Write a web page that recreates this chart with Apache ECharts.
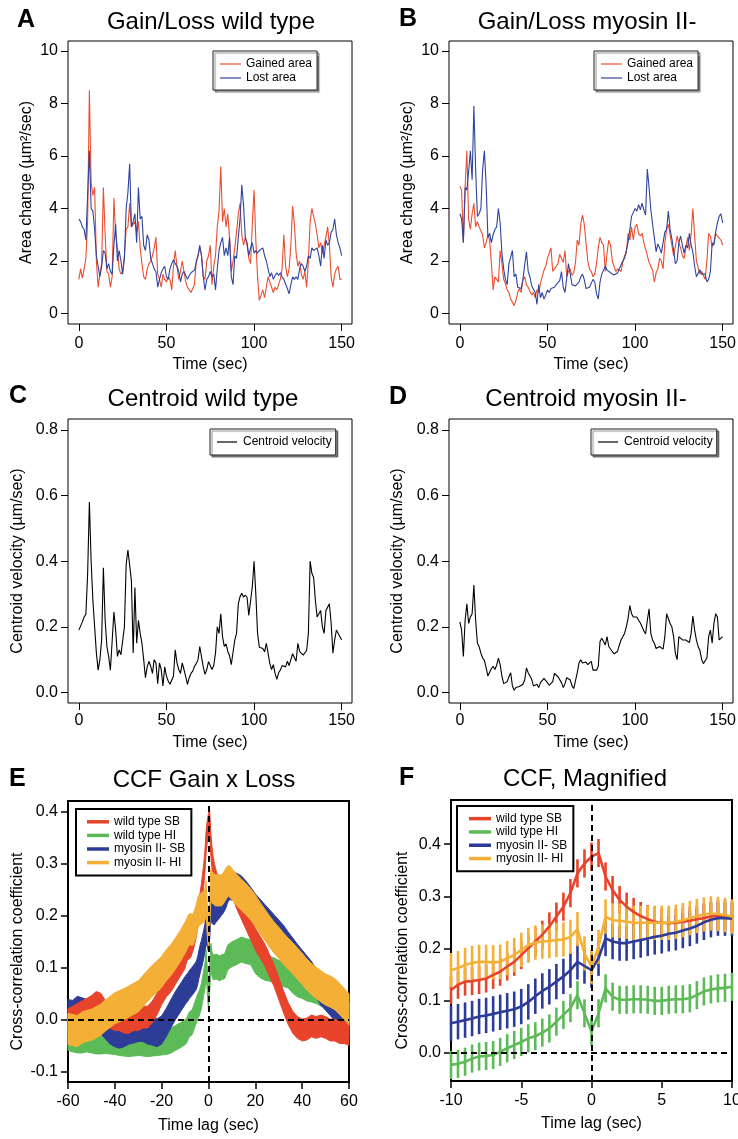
<!DOCTYPE html>
<html><head><meta charset="utf-8">
<script src="https://cdn.jsdelivr.net/npm/echarts@6/dist/echarts.min.js"></script>
<style>html,body{margin:0;padding:0;background:#fff}#c{width:738px;height:1139px}</style>
</head><body><div id="c"></div>
<script>
// ---------------- DATA ----------------
const timeSec = Array.from({length: 151}, (_, i) => i); // sample times 0..150 s

const gainWT = [1.3,1.7,1.35,1.7,2.1,3.5,8.5,5.0,4.5,4.8,
2.0,1.0,1.5,1.9,4.8,3.0,1.6,1.5,1.0,1.4,
4.4,3.0,2.5,1.7,1.5,1.6,2.2,3.2,3.3,4.2,
3.3,3.3,3.5,3.1,3.5,2.5,1.9,1.4,1.3,1.7,
1.9,2.0,2.2,2.5,2.9,1.5,1.3,1.0,1.5,1.3,
1.2,1.4,1.3,0.9,1.8,2.4,1.8,1.3,1.6,2.0,
1.6,1.2,1.0,0.9,0.8,0.95,1.1,2.0,2.2,2.5,
2.2,1.4,1.3,2.0,2.2,2.6,1.1,1.8,2.2,3.3,
3.9,5.6,3.5,4.0,3.3,3.8,2.9,1.6,2.0,2.5,
3.1,3.8,4.2,3.0,2.6,2.9,2.6,2.1,1.9,3.4,
4.7,2.8,1.4,0.5,0.7,0.9,0.6,1.0,1.4,1.2,
1.0,0.8,1.0,0.9,0.9,1.3,1.7,3.0,1.8,1.4,
1.7,2.6,4.1,3.4,2.3,1.8,2.0,1.5,1.3,1.6,
1.0,2.0,3.5,4.0,3.7,3.4,3.0,2.5,2.7,2.3,
2.3,2.9,3.3,2.6,1.4,1.0,1.5,1.7,1.8,1.3,1.3];

const lossWT = [3.6,3.5,3.3,3.2,2.8,4.5,6.2,4.0,3.9,3.2,
2.2,1.8,1.4,1.8,2.4,2.3,1.7,1.9,1.6,1.5,
2.6,3.4,2.0,2.4,2.0,1.5,2.1,4.0,4.6,5.7,
3.3,3.5,3.8,2.7,4.8,3.6,3.7,2.6,2.4,3.0,
2.8,2.1,1.9,1.7,1.6,1.0,1.3,1.55,1.7,1.8,
1.4,1.3,1.7,1.9,2.05,1.9,1.8,1.6,1.2,1.5,
1.6,1.6,1.3,1.45,1.55,1.55,1.65,1.7,2.2,2.6,
2.2,1.4,0.9,1.3,1.4,1.6,1.4,1.5,0.9,1.7,
2.4,2.7,2.9,2.2,2.5,2.2,2.9,1.4,1.1,2.2,
2.1,2.9,3.6,4.9,4.1,2.9,2.7,2.2,2.5,2.7,
2.3,2.4,2.3,2.4,2.4,2.5,2.2,2.0,1.7,1.4,
1.55,1.3,1.45,1.55,1.45,1.55,1.4,1.3,1.3,0.95,
0.75,1.1,1.4,1.3,1.4,1.3,1.7,1.9,1.8,1.6,
1.8,2.2,2.1,2.5,2.4,2.4,2.5,2.2,1.8,2.6,
2.1,2.8,2.6,2.7,3.1,3.2,3.6,3.0,2.7,2.5,2.2];

const gainMyo = [4.85,4.7,2.7,4.8,6.2,3.6,3.2,3.8,4.2,3.3,
3.5,3.3,3.3,3.0,2.5,2.7,3.0,2.8,1.9,0.9,
1.4,1.3,1.2,2.4,1.9,1.3,1.15,0.9,0.8,0.55,
0.6,0.3,0.5,0.8,0.95,0.8,1.3,1.4,1.1,1.0,
0.85,0.7,0.8,0.6,0.9,0.8,1.15,1.1,1.65,1.8,
2.1,2.1,2.5,1.6,1.7,1.8,1.9,2.25,2.2,1.95,
2.4,1.4,1.6,1.7,1.45,1.55,1.95,2.8,2.6,3.4,
3.75,3.4,2.7,2.0,1.7,1.6,1.4,1.5,1.9,2.5,
2.9,2.7,2.6,1.6,2.3,2.8,2.6,2.0,1.8,1.6,
1.7,1.75,1.6,1.95,2.2,2.3,3.05,2.8,3.3,2.8,
3.3,3.4,3.05,2.95,3.05,2.7,2.45,2.5,1.95,1.9,
1.65,1.2,1.55,1.7,2.1,2.0,1.7,2.7,3.2,3.4,
3.0,2.6,2.2,2.55,2.95,2.7,2.5,2.2,2.1,2.5,
2.9,2.4,3.0,4.0,2.95,2.0,1.75,1.5,1.6,1.45,
1.3,2.0,3.05,2.95,2.55,2.7,3.05,2.95,2.95,2.8,2.6];

const lossMyo = [3.8,3.6,2.7,4.8,4.7,5.4,6.2,5.1,7.9,5.5,
3.7,3.8,4.0,5.5,6.2,4.9,2.9,3.05,2.7,3.0,
3.2,3.3,4.0,3.45,2.3,1.7,1.3,1.1,1.9,1.95,
2.4,1.4,1.5,1.0,1.0,0.95,1.3,1.85,2.35,1.6,
1.4,1.05,1.1,0.8,0.35,1.1,0.6,0.8,0.55,0.7,
0.9,0.8,0.95,1.0,1.0,1.1,1.05,1.25,1.6,1.0,
0.8,1.35,1.9,1.5,1.1,1.1,1.05,1.05,1.2,1.4,
1.5,1.3,0.95,0.95,1.0,1.0,1.3,1.2,0.75,0.55,
1.2,1.5,1.45,1.8,1.65,1.6,1.55,1.55,1.47,1.45,
1.55,1.7,1.85,2.0,2.1,2.4,2.7,3.2,3.7,3.7,
4.0,3.9,4.15,3.95,4.2,3.95,3.75,5.5,4.8,3.95,
3.4,2.9,2.35,2.65,2.5,2.3,2.7,3.1,3.2,3.9,
3.2,2.85,2.4,1.9,2.0,2.7,2.95,2.6,2.3,2.6,
2.5,3.05,2.6,2.35,1.8,1.4,1.45,1.67,1.5,1.55,
1.5,1.2,1.3,1.6,2.69,2.6,3.1,3.45,3.7,3.8,3.45];

const velWT = [0.19,0.195,0.215,0.23,0.238,0.36,0.58,0.40,0.28,0.28,
0.12,0.068,0.1,0.16,0.38,0.22,0.14,0.11,0.068,0.07,
0.245,0.19,0.11,0.13,0.115,0.118,0.2,0.39,0.434,0.43,
0.34,0.12,0.32,0.15,0.22,0.18,0.15,0.1,0.045,0.078,
0.095,0.08,0.058,0.1,0.09,0.027,0.09,0.07,0.02,0.078,
0.05,0.035,0.025,0.02,0.05,0.13,0.09,0.07,0.058,0.09,
0.07,0.048,0.025,0.045,0.058,0.065,0.08,0.088,0.1,0.14,
0.135,0.078,0.055,0.07,0.094,0.1,0.07,0.083,0.12,0.2,
0.18,0.24,0.17,0.14,0.148,0.125,0.112,0.085,0.09,0.16,
0.18,0.27,0.292,0.302,0.29,0.297,0.29,0.235,0.23,0.322,
0.40,0.3,0.18,0.138,0.132,0.134,0.124,0.15,0.12,0.088,
0.07,0.085,0.058,0.04,0.06,0.068,0.082,0.08,0.078,0.095,
0.082,0.1,0.118,0.118,0.095,0.15,0.125,0.13,0.114,0.115,
0.128,0.18,0.40,0.363,0.35,0.28,0.23,0.24,0.25,0.2,
0.18,0.25,0.26,0.27,0.21,0.12,0.16,0.19,0.195,0.17,0.16];

const velMyo = [0.215,0.19,0.11,0.22,0.27,0.21,0.23,0.24,0.327,0.22,
0.15,0.14,0.12,0.105,0.098,0.075,0.05,0.045,0.073,0.08,
0.07,0.083,0.105,0.085,0.05,0.027,0.03,0.033,0.048,0.06,
0.02,0.007,0.015,0.019,0.018,0.02,0.025,0.038,0.075,0.06,
0.06,0.04,0.02,0.02,0.025,0.015,0.03,0.035,0.043,0.04,
0.03,0.022,0.017,0.033,0.058,0.055,0.048,0.045,0.03,0.015,
0.027,0.045,0.045,0.038,0.02,0.012,0.017,0.06,0.09,0.1,
0.09,0.09,0.093,0.085,0.088,0.095,0.068,0.068,0.068,0.08,
0.155,0.165,0.155,0.145,0.17,0.14,0.135,0.125,0.118,0.114,
0.125,0.144,0.16,0.165,0.18,0.2,0.225,0.265,0.24,0.23,
0.225,0.23,0.22,0.212,0.2,0.188,0.178,0.22,0.255,0.18,
0.16,0.15,0.134,0.135,0.14,0.14,0.132,0.17,0.24,0.236,
0.21,0.2,0.17,0.12,0.1,0.17,0.17,0.16,0.162,0.16,
0.155,0.152,0.18,0.233,0.19,0.16,0.14,0.128,0.1,0.088,
0.092,0.105,0.17,0.19,0.15,0.21,0.24,0.23,0.16,0.155,0.17];

// CCF lags
const lagsOuterL = [-60,-58,-56,-54,-52,-50,-48,-46,-44,-42,-40,-38,-36,-34,-32,-30,-28,-26,-24,-22,-20,-18,-16,-14,-12];
const lagsOuterR = [12,14,16,18,20,22,24,26,28,30,32,34,36,38,40,42,44,46,48,50,52,54,56,58,60];
const lagsInner = [-10,-9.5,-9,-8.5,-8,-7.5,-7,-6.5,-6,-5.5,-5,-4.5,-4,-3.5,-3,-2.5,-2,-1.5,-1,-0.5,0,0.5,1,1.5,2,2.5,3,3.5,4,4.5,5,5.5,6,6.5,7,7.5,8,8.5,9,9.5,10];

// wild type SB (red)
const wtSB_L = [0.0,0.005,0.01,0.015,0.02,0.025,0.033,0.03,0.015,0.005,0.0,0.0,-0.005,-0.005,0.0,0.0,0.005,0.005,0.015,0.03,0.05,0.065,0.075,0.09,0.105];
const wtSB_In = [0.12,0.13,0.136,0.137,0.139,0.142,0.149,0.155,0.165,0.174,0.187,0.2,0.213,0.226,0.242,0.261,0.28,0.306,0.344,0.363,0.376,0.383,0.338,0.312,0.293,0.28,0.27,0.262,0.256,0.251,0.249,0.248,0.249,0.251,0.253,0.256,0.258,0.261,0.262,0.261,0.26];
const wtSB_R = [0.235,0.215,0.195,0.175,0.155,0.14,0.125,0.105,0.085,0.06,0.035,0.012,-0.005,-0.015,-0.02,-0.018,-0.012,-0.015,-0.012,-0.015,-0.02,-0.02,-0.025,-0.025,-0.028];
// wild type HI (green)
const wtHI_L = [-0.035,-0.038,-0.04,-0.04,-0.038,-0.04,-0.042,-0.042,-0.041,-0.042,-0.043,-0.045,-0.046,-0.047,-0.046,-0.045,-0.046,-0.047,-0.046,-0.045,-0.044,-0.043,-0.04,-0.035,-0.03];
const wtHI_In = [-0.024,-0.022,-0.018,-0.012,-0.008,-0.007,-0.005,0.001,0.008,0.014,0.02,0.027,0.031,0.038,0.046,0.059,0.072,0.085,0.11,0.075,0.04,0.075,0.123,0.107,0.101,0.101,0.102,0.102,0.101,0.099,0.099,0.101,0.102,0.102,0.104,0.11,0.117,0.121,0.123,0.124,0.126];
const wtHI_R = [0.13,0.135,0.132,0.13,0.113,0.105,0.1,0.098,0.095,0.09,0.088,0.085,0.075,0.068,0.065,0.06,0.058,0.055,0.05,0.049,0.045,0.038,0.025,0.015,0.01];
// myosin II- SB (blue)
const myoSB_L = [0.012,0.01,0.018,0.015,0.012,0.01,0.005,0.0,-0.01,-0.02,-0.025,-0.028,-0.025,-0.02,-0.018,-0.015,-0.015,-0.02,-0.022,-0.025,-0.02,-0.005,0.012,0.028,0.042];
const myoSB_In = [0.056,0.059,0.062,0.065,0.069,0.071,0.074,0.077,0.08,0.083,0.088,0.097,0.108,0.118,0.126,0.136,0.146,0.158,0.174,0.166,0.158,0.181,0.219,0.213,0.21,0.21,0.213,0.216,0.219,0.222,0.224,0.228,0.23,0.234,0.238,0.243,0.25,0.255,0.258,0.258,0.257];
const myoSB_R = [0.255,0.25,0.24,0.228,0.215,0.205,0.195,0.185,0.175,0.165,0.155,0.142,0.13,0.118,0.107,0.096,0.085,0.07,0.055,0.045,0.035,0.025,0.012,0.0,-0.008];
// myosin II- HI (yellow)
const myoHI_L = [-0.018,-0.02,-0.022,-0.015,-0.012,-0.01,-0.005,0.0,0.008,0.015,0.022,0.026,0.03,0.035,0.04,0.045,0.055,0.065,0.075,0.083,0.092,0.105,0.115,0.128,0.142];
const myoHI_In = [0.158,0.162,0.168,0.172,0.174,0.174,0.173,0.174,0.181,0.187,0.197,0.206,0.211,0.213,0.214,0.216,0.217,0.222,0.237,0.19,0.165,0.203,0.261,0.254,0.253,0.251,0.249,0.249,0.249,0.249,0.249,0.249,0.251,0.254,0.258,0.262,0.265,0.267,0.266,0.264,0.261];
const myoHI_R = [0.25,0.241,0.232,0.222,0.21,0.196,0.183,0.17,0.158,0.148,0.137,0.127,0.118,0.108,0.098,0.087,0.078,0.071,0.064,0.058,0.054,0.049,0.04,0.03,0.02];

// half-widths of the error band (E) and error bars (F)
const errBandE = {wtSB: 0.021, wtHI: 0.024, myoSB: 0.027, myoHI: 0.03};
const errBarF  = {wtSB: 0.027, wtHI: 0.027, myoSB: 0.034, myoHI: 0.033};

const xTicksTime = [0, 50, 100, 150];
const yTicksArea = [0, 2, 4, 6, 8, 10];
const yTicksVel = [0, 0.2, 0.4, 0.6, 0.8];
const yTicksCCF = [-0.1, 0, 0.1, 0.2, 0.3, 0.4];
const yTicksMag = [0, 0.1, 0.2, 0.3, 0.4];

// ---------------- STYLE ----------------
const FONT = '"Liberation Sans", Arial, Helvetica, sans-serif';
const C_RED = '#E8432B', C_BLUE = '#2D3C97', C_GREEN = '#5CBB57', C_YEL = '#F4B036';
const C_LRED = '#EA4E2E', C_LBLUE = '#2F43A0';

const grids = [
  {left: 68, top: 41, width: 284, height: 283},
  {left: 449, top: 41, width: 284, height: 283},
  {left: 68, top: 419, width: 284, height: 284},
  {left: 449, top: 419, width: 284, height: 284},
  {left: 68, top: 801, width: 281, height: 281},
  {left: 451, top: 800, width: 281, height: 281}
].map((g, i) => Object.assign({show: true, borderColor: '#000', borderWidth: i >= 4 ? 2 : 1,
  backgroundColor: 'transparent', containLabel: false, outerBoundsMode: 'none'}, g));

function xAx(gi, min, max, opts) {
  const thick = gi >= 4;
  return Object.assign({
    type: 'value', gridIndex: gi, min, max,
    axisLine: {show: false, onZero: false},
    axisTick: {show: true, inside: false, length: 7, lineStyle: {color: '#000', width: thick ? 1.5 : 1}},
    axisLabel: {color: '#000', fontSize: 16, fontFamily: FONT, margin: 12},
    splitLine: {show: false},
    name: opts.name, nameLocation: 'middle', nameGap: opts.nameGap,
    nameTextStyle: {color: '#000', fontSize: 16, fontFamily: FONT}
  }, opts.extra || {});
}
function yAx(gi, min, max, ticks, fmt, opts) {
  const thick = gi >= 4;
  return {
    type: 'value', gridIndex: gi, min, max,
    axisLine: {show: false, onZero: false},
    axisTick: {show: true, inside: false, length: 7, customValues: ticks, lineStyle: {color: '#000', width: thick ? 1.5 : 1}},
    axisLabel: {color: '#000', fontSize: 16, fontFamily: FONT, margin: 10, customValues: ticks, formatter: fmt},
    splitLine: {show: false},
    name: opts.name, nameLocation: 'middle', nameGap: opts.nameGap, nameRotate: 90,
    nameTextStyle: Object.assign({color: '#000', fontSize: 16, fontFamily: FONT}, opts.nts || {})
  };
}
const timeX = (gi, margin) => xAx(gi, -6.2, 155.9, {name: 'Time (sec)', nameGap: margin === 12 ? 33 : 32, extra: {
  axisTick: {show: true, inside: false, length: 7, customValues: xTicksTime, lineStyle: {color: '#000'}},
  axisLabel: {color: '#000', fontSize: 16, fontFamily: FONT, margin: margin, customValues: xTicksTime}
}});

const xAxes = [
  timeX(0, 12), timeX(1, 12), timeX(2, 10), timeX(3, 10),
  xAx(4, -60, 60, {name: 'Time lag (sec)', nameGap: 36, extra: {interval: 20}}),
  xAx(5, -10, 10, {name: 'Time lag (sec)', nameGap: 35, extra: {interval: 5}})
];
const f0 = v => String(Math.round(v));
const f1 = v => (Math.abs(v) < 1e-9 ? 0 : v).toFixed(1);
const yAxes = [
  yAx(0, -0.4, 10.38, yTicksArea, f0, {name: 'Area change (µm²/sec)', nameGap: 33}),
  yAx(1, -0.4, 10.38, yTicksArea, f0, {name: 'Area change (µm²/sec)', nameGap: 33}),
  yAx(2, -0.032, 0.833, yTicksVel, f1, {name: 'Centroid velocity (µm/sec)', nameGap: 42}),
  yAx(3, -0.032, 0.833, yTicksVel, f1, {name: 'Centroid velocity (µm/sec)', nameGap: 43}),
  yAx(4, -0.12, 0.421, yTicksCCF, f1, {name: 'Cross-correlation coefficient', nameGap: 42, nts: {padding: [0, 20, 0, 0]}}),
  yAx(5, -0.055, 0.485, yTicksMag, f1, {name: 'Cross-correlation coefficient', nameGap: 40, nts: {padding: [0, 20, 0, 0]}})
];

const pairs = (xs, ys) => xs.map((x, i) => [x, ys[i]]);

function lineS(name, gi, xs, ys, color, width) {
  return {type: 'line', name, xAxisIndex: gi, yAxisIndex: gi, data: pairs(xs, ys),
    symbol: 'none', showSymbol: false, silent: true, animation: false,
    lineStyle: {color, width}, itemStyle: {color}};
}
function dashHolder(gi) {
  return {type: 'line', name: '_ref' + gi, xAxisIndex: gi, yAxisIndex: gi, data: [[0, 0]],
    symbol: 'none', lineStyle: {opacity: 0}, silent: true, animation: false,
    markLine: {symbol: 'none', silent: true, animation: false, label: {show: false},
      lineStyle: {color: '#000', type: [6, 4], width: 2},
      data: [{xAxis: 0}, {yAxis: 0}]}};
}
function bandS(name, gi, xs, ys, err, color) {
  const data = pairs(xs, ys);
  return {type: 'custom', name, xAxisIndex: gi, yAxisIndex: gi, data, silent: true, animation: false,
    encode: {x: 0, y: 1}, itemStyle: {color},
    renderItem: function (params, api) {
      if (params.dataIndex !== 0) return null;
      const up = data.map(d => api.coord([d[0], d[1] + err]));
      const lo = data.slice().reverse().map(d => api.coord([d[0], d[1] - err]));
      return {type: 'polygon', shape: {points: up.concat(lo)},
        style: {fill: color, stroke: color, lineWidth: 1}};
    }};
}
function barsS(name, gi, xs, ys, err, color) {
  return {type: 'custom', name: name + ' err', xAxisIndex: gi, yAxisIndex: gi, data: pairs(xs, ys),
    silent: true, animation: false, encode: {x: 0, y: 1},
    renderItem: function (params, api) {
      const x = api.value(0), y = api.value(1);
      const a = api.coord([x, y - err]), b = api.coord([x, y + err]);
      return {type: 'line', shape: {x1: a[0], y1: a[1], x2: b[0], y2: b[1]},
        style: {stroke: color, lineWidth: 2.6}};
    }};
}

const lagsE = lagsOuterL.concat(lagsInner, lagsOuterR);
const series = [
  lineS('Gained area', 0, timeSec, gainWT, C_LRED, 1.1),
  lineS('Lost area', 0, timeSec, lossWT, C_LBLUE, 1.1),
  lineS('Gained area', 1, timeSec, gainMyo, C_LRED, 1.1),
  lineS('Lost area', 1, timeSec, lossMyo, C_LBLUE, 1.1),
  lineS('Centroid velocity', 2, timeSec, velWT, '#000', 1.1),
  lineS('Centroid velocity', 3, timeSec, velMyo, '#000', 1.1),
  dashHolder(4),
  bandS('wild type HI', 4, lagsE, wtHI_L.concat(wtHI_In, wtHI_R), errBandE.wtHI, C_GREEN),
  bandS('myosin II- SB', 4, lagsE, myoSB_L.concat(myoSB_In, myoSB_R), errBandE.myoSB, C_BLUE),
  bandS('wild type SB', 4, lagsE, wtSB_L.concat(wtSB_In, wtSB_R), errBandE.wtSB, C_RED),
  bandS('myosin II- HI', 4, lagsE, myoHI_L.concat(myoHI_In, myoHI_R), errBandE.myoHI, C_YEL),
  dashHolder(5),
  barsS('wild type SB', 5, lagsInner, wtSB_In, errBarF.wtSB, C_RED),
  lineS('wild type SB', 5, lagsInner, wtSB_In, C_RED, 2.6),
  barsS('wild type HI', 5, lagsInner, wtHI_In, errBarF.wtHI, C_GREEN),
  lineS('wild type HI', 5, lagsInner, wtHI_In, C_GREEN, 2.6),
  barsS('myosin II- SB', 5, lagsInner, myoSB_In, errBarF.myoSB, C_BLUE),
  lineS('myosin II- SB', 5, lagsInner, myoSB_In, C_BLUE, 2.6),
  barsS('myosin II- HI', 5, lagsInner, myoHI_In, errBarF.myoHI, C_YEL),
  lineS('myosin II- HI', 5, lagsInner, myoHI_In, C_YEL, 2.6)
];

function legendBox(left, top, items, o) {
  return Object.assign({
    orient: 'vertical', left, top, selectedMode: false, itemGap: 0,
    itemWidth: o.iw, itemHeight: o.ih,
    borderColor: o.bc || '#222', borderWidth: o.bw || 1, backgroundColor: '#fff',
    shadowColor: o.shadow ? 'rgba(0,0,0,0.45)' : 'transparent', shadowBlur: o.shadow ? 1 : 0,
    shadowOffsetX: o.shadow ? 2 : 0, shadowOffsetY: o.shadow ? 2 : 0,
    padding: o.pad,
    textStyle: {color: '#000', fontSize: 12, fontFamily: FONT, lineHeight: o.lh, padding: [0, 0, 0, o.tg || 0]},
    data: items.map(([n, c]) => ({name: n, icon: 'rect', itemStyle: {color: c}}))
  });
}
const legAB = [['Gained area', C_LRED], ['Lost area', C_LBLUE]];
const legCD = [['Centroid velocity', '#000']];
const legEF = [['wild type SB', C_RED], ['wild type HI', C_GREEN], ['myosin II- SB', C_BLUE], ['myosin II- HI', C_YEL]];
const legends = [
  legendBox(213, 51, legAB, {iw: 21, ih: 1.2, lh: 14, pad: [6, 5, 5, 7], shadow: true}),
  legendBox(594, 51, legAB, {iw: 21, ih: 1.2, lh: 14, pad: [6, 5, 5, 7], shadow: true}),
  legendBox(210, 429, legCD, {iw: 20, ih: 1.2, lh: 14, pad: [6, 4, 6, 7], tg: 1, shadow: true}),
  legendBox(591, 429, legCD, {iw: 20, ih: 1.2, lh: 14, pad: [6, 4, 6, 7], tg: 1, shadow: true}),
  legendBox(76, 809, legEF, {iw: 22, ih: 3.5, lh: 13.6, pad: [6, 6, 6, 11], bw: 2, bc: '#000'}),
  legendBox(457, 806, legEF, {iw: 22, ih: 3.5, lh: 13.3, pad: [6, 6, 6, 12], bw: 2, bc: '#000'})
];

function txt(t, x, y, size, bold, align) {
  return {type: 'text', x, y, silent: true,
    style: {text: t, fill: '#000', font: (bold ? 'bold ' : '') + size + 'px ' + FONT,
      align: align || 'center', verticalAlign: 'middle', textAlign: align || 'center', textVerticalAlign: 'middle'}};
}
const graphics = [
  txt('A', 17, 20, 25, true, 'left'), txt('Gain/Loss wild type', 211, 22, 24),
  txt('B', 399, 19, 25, true, 'left'), txt('Gain/Loss myosin II-', 587, 22, 24),
  txt('C', 9, 396, 25, true, 'left'), txt('Centroid wild type', 203, 399, 24),
  txt('D', 389, 397, 25, true, 'left'), txt('Centroid myosin II-', 586, 399, 24),
  txt('E', 9, 779, 25, true, 'left'), txt('CCF Gain x Loss', 204, 780, 24),
  txt('F', 399, 778, 25, true, 'left'), txt('CCF, Magnified', 585, 779, 24)
];

const chart = echarts.init(document.getElementById('c'), null, {renderer: 'canvas', width: 738, height: 1139});
chart.setOption({
  animation: false,
  backgroundColor: '#fff',
  textStyle: {fontFamily: FONT},
  grid: grids,
  xAxis: xAxes,
  yAxis: yAxes,
  legend: legends,
  graphic: graphics,
  series
});
</script>
</body></html>
